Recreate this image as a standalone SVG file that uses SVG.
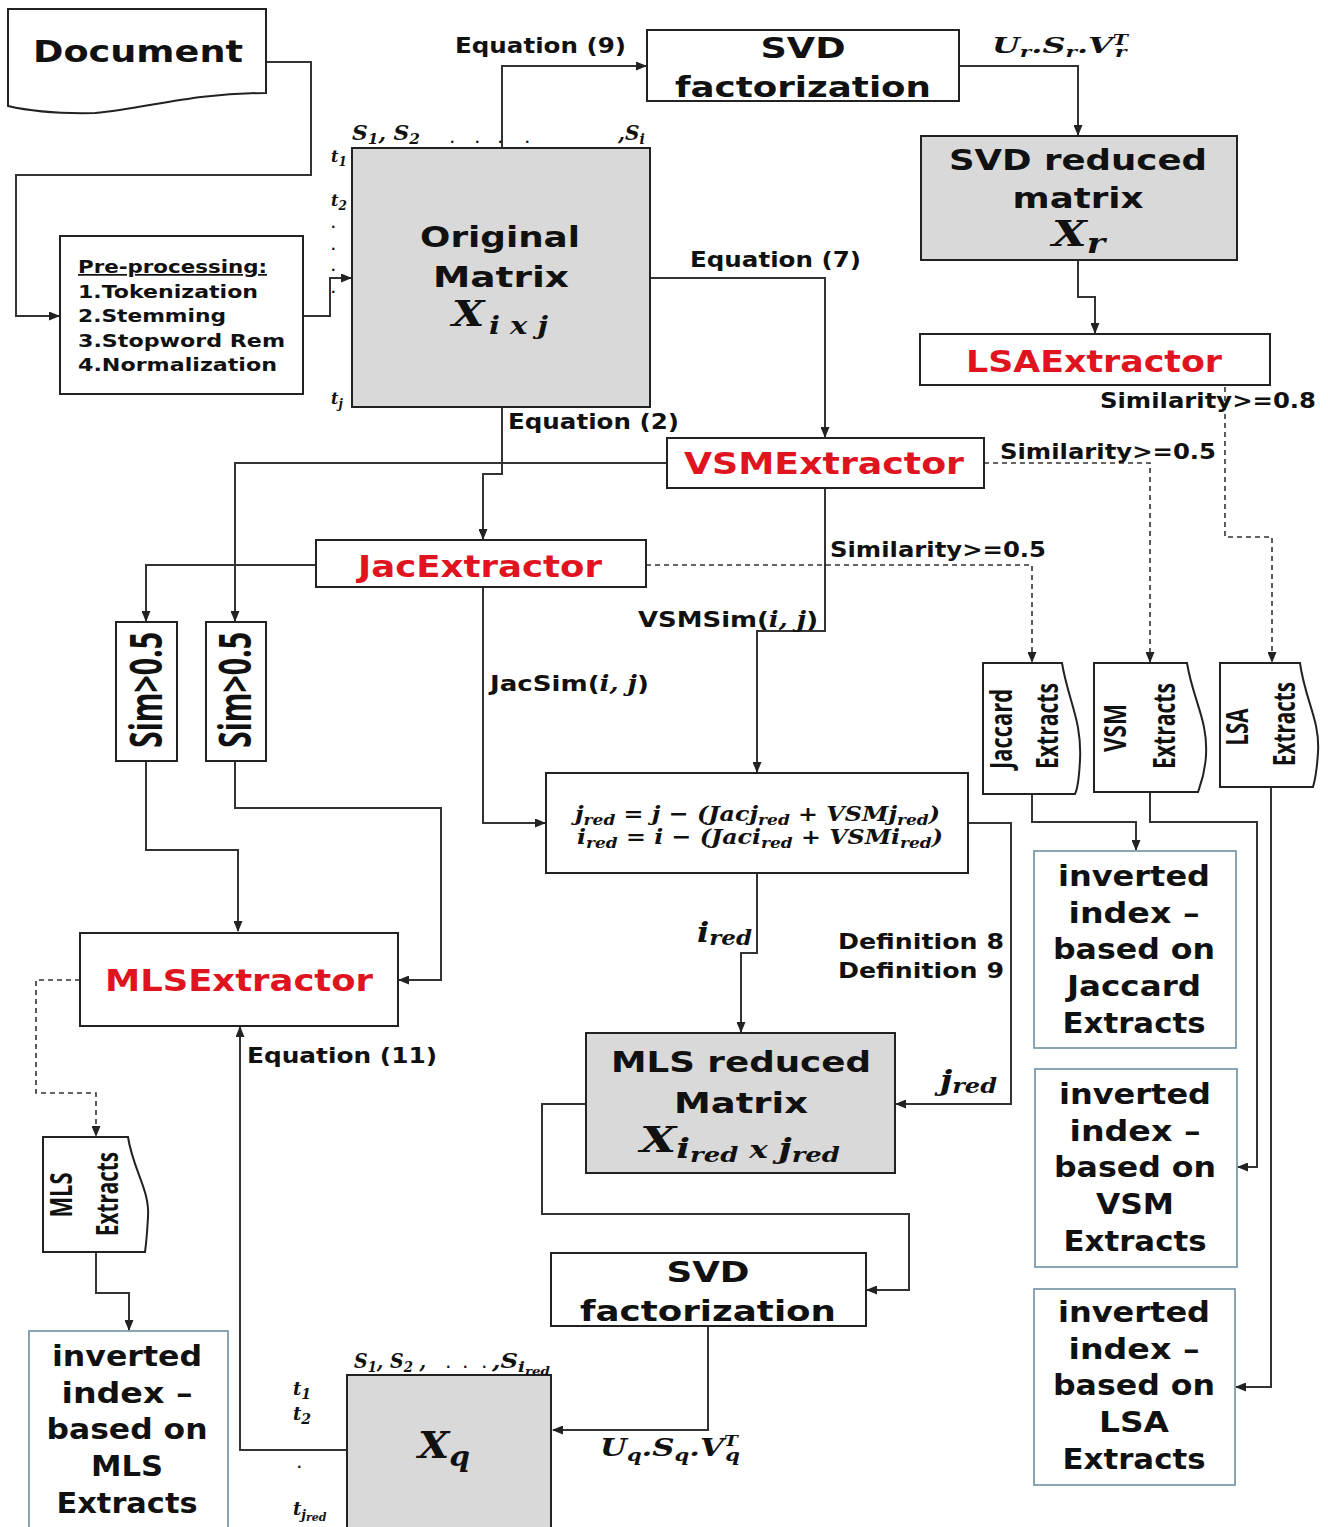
<svg xmlns="http://www.w3.org/2000/svg" width="1328" height="1527" viewBox="0 0 1328 1527">
<style>
.box{fill:#fff;stroke:#222;stroke-width:2}
.gray{fill:#d9d9d9;stroke:#222;stroke-width:2}
.ii{fill:#fff;stroke:#6f8fa3;stroke-width:1.6}
.c{fill:none;stroke:#333;stroke-width:2}
.d{fill:none;stroke:#333;stroke-width:1.6;stroke-dasharray:5 4}
.t{font-family:"DejaVu Sans",Verdana,sans-serif;font-weight:bold;fill:#111}
.red{fill:#e0141e}
.m{font-family:"DejaVu Serif","Liberation Serif",serif;font-style:italic;font-weight:bold;fill:#111}
.r{font-family:"Open Sans","Noto Sans",sans-serif;font-weight:700;fill:#111}
.mid{text-anchor:middle}
</style>
<defs>
<marker id="a" markerWidth="11" markerHeight="9" refX="10" refY="4.5" orient="auto" markerUnits="userSpaceOnUse">
<path d="M0,0 L11,4.5 L0,9 z" fill="#222"/>
</marker>
</defs>

<g id="connectors">
<path class="c" d="M266,62 H311 V175 H16 V316 H59" marker-end="url(#a)"/>
<path class="c" d="M303,316 H330 V278 H351" marker-end="url(#a)"/>
<path class="c" d="M502,148 V66 H646" marker-end="url(#a)"/>
<path class="c" d="M959,66 H1078 V135" marker-end="url(#a)"/>
<path class="c" d="M1078,260 V297 H1095 V333" marker-end="url(#a)"/>
<path class="d" d="M1270,360 H1225 V537 H1272 V662" marker-end="url(#a)"/>
<path class="c" d="M650,278 H825 V437" marker-end="url(#a)"/>
<path class="d" d="M984,463 H1150 V662" marker-end="url(#a)"/>
<path class="c" d="M502,407 V474 H483 V539" marker-end="url(#a)"/>
<path class="c" d="M667,463 H235 V621" marker-end="url(#a)"/>
<path class="c" d="M316,565 H146 V621" marker-end="url(#a)"/>
<path class="d" d="M646,565 H1032 V662" marker-end="url(#a)"/>
<path class="c" d="M483,587 V823 H545" marker-end="url(#a)"/>
<path class="c" d="M825,488 V631 H757 V772" marker-end="url(#a)"/>
<path class="c" d="M146,761 V850 H238 V931" marker-end="url(#a)"/>
<path class="c" d="M235,761 V808 H441 V980 H399" marker-end="url(#a)"/>
<path class="c" d="M968,823 H1011 V1104 H896" marker-end="url(#a)"/>
<path class="c" d="M757,873 V953 H741 V1032" marker-end="url(#a)"/>
<path class="c" d="M586,1104 H542 V1214 H909 V1290 H867" marker-end="url(#a)"/>
<path class="c" d="M708,1326 V1430 H553" marker-end="url(#a)"/>
<path class="c" d="M347,1450 H240 V1027" marker-end="url(#a)"/>
<path class="d" d="M80,980 H36 V1093 H96 V1136" marker-end="url(#a)"/>
<path class="c" d="M96,1252 V1293 H129 V1330" marker-end="url(#a)"/>
<path class="c" d="M1032,794 V822 H1136 V850" marker-end="url(#a)"/>
<path class="c" d="M1150,791 V822 H1257 V1167 H1238" marker-end="url(#a)"/>
<path class="c" d="M1271,787 V1387 H1236" marker-end="url(#a)"/>
</g>

<g id="document">
<path class="box" d="M8,9 H266 V93 C190,93 150,108 95,113 C50,114 25,110 8,106 Z"/>
<text class="t" x="33" y="62" font-size="30" textLength="210" lengthAdjust="spacingAndGlyphs">Document</text>
</g>

<g id="preprocessing">
<rect class="box" x="60" y="236" width="243" height="158"/>
<text class="t" x="78" y="273" font-size="17" textLength="189" lengthAdjust="spacingAndGlyphs" text-decoration="underline">Pre-processing:</text>
<text class="t" x="78" y="298" font-size="17" textLength="180" lengthAdjust="spacingAndGlyphs">1.Tokenization</text>
<text class="t" x="78" y="322" font-size="17" textLength="148" lengthAdjust="spacingAndGlyphs">2.Stemming</text>
<text class="t" x="78" y="347" font-size="17" textLength="207" lengthAdjust="spacingAndGlyphs">3.Stopword Rem</text>
<text class="t" x="78" y="371" font-size="17" textLength="199" lengthAdjust="spacingAndGlyphs">4.Normalization</text>
</g>

<g id="original-matrix">
<rect class="gray" x="352" y="148" width="298" height="259"/>
<text class="t" x="420" y="247" font-size="29" textLength="160" lengthAdjust="spacingAndGlyphs">Original</text>
<text class="t" x="433" y="287" font-size="29" textLength="136" lengthAdjust="spacingAndGlyphs">Matrix</text>
<text class="m" x="452" y="326" font-size="36" textLength="96" lengthAdjust="spacingAndGlyphs">X<tspan font-size="25" dy="8" dx="4">i x j</tspan></text>
<text class="m" x="352" y="140" font-size="20" textLength="68" lengthAdjust="spacingAndGlyphs">S<tspan font-size="14" dy="4">1</tspan><tspan dy="-4">, S</tspan><tspan font-size="14" dy="4">2</tspan></text>
<text class="t" x="450 475 498 525" y="143" font-size="12">....</text>
<text class="m" x="618" y="140" font-size="20">,S<tspan font-size="14" dy="4">i</tspan></text>
<text class="m" x="331" y="162" font-size="16">t<tspan font-size="12" dy="4">1</tspan></text>
<text class="m" x="331" y="206" font-size="16">t<tspan font-size="12" dy="4">2</tspan></text>
<text class="t" x="331" y="228" font-size="12">.</text>
<text class="t" x="331" y="250" font-size="12">.</text>
<text class="t" x="331" y="271" font-size="12">.</text>
<text class="t" x="331" y="293" font-size="12">.</text>
<text class="m" x="331" y="404" font-size="16">t<tspan font-size="12" dy="4">j</tspan></text>
</g>

<g id="svd-factorization-top">
<rect class="box" x="647" y="30" width="312" height="71"/>
<text class="t mid" x="803" y="58" font-size="29" textLength="85" lengthAdjust="spacingAndGlyphs">SVD</text>
<text class="t mid" x="803" y="97" font-size="29" textLength="256" lengthAdjust="spacingAndGlyphs">factorization</text>
</g>

<g id="svd-reduced-matrix">
<rect class="gray" x="921" y="136" width="316" height="124"/>
<text class="t mid" x="1078" y="170" font-size="29" textLength="258" lengthAdjust="spacingAndGlyphs">SVD reduced</text>
<text class="t mid" x="1078" y="208" font-size="29" textLength="131" lengthAdjust="spacingAndGlyphs">matrix</text>
<text class="m" x="1052" y="246" font-size="36" textLength="53" lengthAdjust="spacingAndGlyphs">X<tspan font-size="28" dy="7">r</tspan></text>
</g>

<g id="lsa-extractor">
<rect class="box" x="920" y="334" width="350" height="51"/>
<text class="t red" x="966" y="372" font-size="30" textLength="256" lengthAdjust="spacingAndGlyphs">LSAExtractor</text>
</g>

<g id="vsm-extractor">
<rect class="box" x="667" y="438" width="317" height="50"/>
<text class="t red" x="684" y="474" font-size="30" textLength="280" lengthAdjust="spacingAndGlyphs">VSMExtractor</text>
</g>

<g id="jac-extractor">
<rect class="box" x="316" y="540" width="330" height="47"/>
<text class="t red" x="358" y="577" font-size="30" textLength="244" lengthAdjust="spacingAndGlyphs">JacExtractor</text>
</g>

<g id="sim-left">
<rect class="box" x="116" y="622" width="61" height="139"/>
<text class="r mid" transform="translate(162,690) rotate(-90)" x="0" y="0" font-size="44" textLength="116" lengthAdjust="spacingAndGlyphs">Sim&gt;0.5</text>
</g>
<g id="sim-right">
<rect class="box" x="206" y="622" width="60" height="139"/>
<text class="r mid" transform="translate(251,690) rotate(-90)" x="0" y="0" font-size="44" textLength="116" lengthAdjust="spacingAndGlyphs">Sim&gt;0.5</text>
</g>

<g id="jaccard-extracts">
<path class="box" d="M983,663 H1062 C1068,700 1082,720 1080,760 C1079,780 1077,790 1075,794 H983 Z"/>
<text class="r mid" transform="translate(1012,729) rotate(-90)" font-size="30" textLength="80" lengthAdjust="spacingAndGlyphs">Jaccard</text>
<text class="r mid" transform="translate(1058,726) rotate(-90)" font-size="30" textLength="86" lengthAdjust="spacingAndGlyphs">Extracts</text>
</g>
<g id="vsm-extracts">
<path class="box" d="M1094,663 H1187 C1193,700 1208,720 1206,755 C1205,775 1200,786 1198,792 H1094 Z"/>
<text class="r mid" transform="translate(1126,728) rotate(-90)" font-size="30" textLength="48" lengthAdjust="spacingAndGlyphs">VSM</text>
<text class="r mid" transform="translate(1175,726) rotate(-90)" font-size="30" textLength="86" lengthAdjust="spacingAndGlyphs">Extracts</text>
</g>
<g id="lsa-extracts">
<path class="box" d="M1220,663 H1300 C1305,700 1320,720 1318,752 C1317,770 1315,780 1313,787 H1220 Z"/>
<text class="r mid" transform="translate(1248,727) rotate(-90)" font-size="30" textLength="37" lengthAdjust="spacingAndGlyphs">LSA</text>
<text class="r mid" transform="translate(1295,724) rotate(-90)" font-size="30" textLength="84" lengthAdjust="spacingAndGlyphs">Extracts</text>
</g>

<g id="reduction-formula">
<rect class="box" x="546" y="773" width="422" height="100"/>
<text class="m" x="575" y="821" font-size="21" textLength="365" lengthAdjust="spacingAndGlyphs">j<tspan font-size="15" dy="4">red</tspan><tspan dy="-4"> = j − (Jacj</tspan><tspan font-size="15" dy="4">red</tspan><tspan dy="-4"> + VSMj</tspan><tspan font-size="15" dy="4">red</tspan><tspan dy="-4">)</tspan></text>
<text class="m" x="577" y="844" font-size="21" textLength="366" lengthAdjust="spacingAndGlyphs">i<tspan font-size="15" dy="4">red</tspan><tspan dy="-4"> = i − (Jaci</tspan><tspan font-size="15" dy="4">red</tspan><tspan dy="-4"> + VSMi</tspan><tspan font-size="15" dy="4">red</tspan><tspan dy="-4">)</tspan></text>
</g>

<g id="mls-extractor">
<rect class="box" x="80" y="933" width="318" height="93"/>
<text class="t red" x="105" y="991" font-size="30" textLength="268" lengthAdjust="spacingAndGlyphs">MLSExtractor</text>
</g>

<g id="mls-reduced-matrix">
<rect class="gray" x="586" y="1033" width="309" height="140"/>
<text class="t mid" x="741" y="1072" font-size="29" textLength="260" lengthAdjust="spacingAndGlyphs">MLS reduced</text>
<text class="t mid" x="741" y="1113" font-size="29" textLength="134" lengthAdjust="spacingAndGlyphs">Matrix</text>
<text class="m" x="640" y="1152" font-size="36" textLength="200" lengthAdjust="spacingAndGlyphs">X<tspan font-size="28" dy="6">i</tspan><tspan font-size="20" dy="4">red</tspan><tspan font-size="24" dy="-4"> x </tspan><tspan font-size="28">j</tspan><tspan font-size="20" dy="4">red</tspan></text>
</g>

<g id="svd-factorization-bottom">
<rect class="box" x="551" y="1253" width="315" height="73"/>
<text class="t mid" x="708" y="1282" font-size="29" textLength="83" lengthAdjust="spacingAndGlyphs">SVD</text>
<text class="t mid" x="708" y="1321" font-size="29" textLength="256" lengthAdjust="spacingAndGlyphs">factorization</text>
</g>

<g id="xq-matrix">
<rect class="gray" x="347" y="1375" width="204" height="160"/>
<text class="m" x="418" y="1458" font-size="38" textLength="52" lengthAdjust="spacingAndGlyphs">X<tspan font-size="28" dy="8">q</tspan></text>
<text class="m" x="354" y="1368" font-size="20" textLength="72" lengthAdjust="spacingAndGlyphs">S<tspan font-size="14" dy="4">1</tspan><tspan dy="-4">, S</tspan><tspan font-size="14" dy="4">2</tspan><tspan dy="-4"> ,</tspan></text>
<text class="t" x="446 463 482" y="1368" font-size="12">...</text>
<text class="m" x="492" y="1368" font-size="20" textLength="58" lengthAdjust="spacingAndGlyphs">,S<tspan font-size="15" dy="4">i</tspan><tspan font-size="11" dy="3">red</tspan></text>
<text class="m" x="293" y="1395" font-size="18">t<tspan font-size="14" dy="4">1</tspan></text>
<text class="m" x="293" y="1420" font-size="18">t<tspan font-size="14" dy="4">2</tspan></text>
<text class="t" x="297" y="1468" font-size="12">.</text>
<text class="m" x="293" y="1515" font-size="18">t<tspan font-size="13" dy="4">j</tspan><tspan font-size="11" dy="2">red</tspan></text>
</g>

<g id="mls-extracts">
<path class="box" d="M43,1137 H128 C133,1170 150,1190 148,1217 C147,1235 146,1245 145,1252 H43 Z"/>
<text class="r mid" transform="translate(72,1195) rotate(-90)" font-size="30" textLength="45" lengthAdjust="spacingAndGlyphs">MLS</text>
<text class="r mid" transform="translate(118,1194) rotate(-90)" font-size="30" textLength="84" lengthAdjust="spacingAndGlyphs">Extracts</text>
</g>

<g id="inverted-index-mls">
<rect class="ii" x="29" y="1331" width="199" height="205"/>
<text class="t mid" x="127" y="1366" font-size="28" textLength="150" lengthAdjust="spacingAndGlyphs">inverted</text>
<text class="t mid" x="127" y="1403" font-size="28" textLength="131" lengthAdjust="spacingAndGlyphs">index –</text>
<text class="t mid" x="127" y="1439" font-size="28" textLength="161" lengthAdjust="spacingAndGlyphs">based on</text>
<text class="t mid" x="127" y="1476" font-size="28" textLength="72" lengthAdjust="spacingAndGlyphs">MLS</text>
<text class="t mid" x="127" y="1513" font-size="28" textLength="141" lengthAdjust="spacingAndGlyphs">Extracts</text>
</g>

<g id="inverted-index-jaccard">
<rect class="ii" x="1034" y="851" width="202" height="197"/>
<text class="t mid" x="1134" y="886" font-size="28" textLength="152" lengthAdjust="spacingAndGlyphs">inverted</text>
<text class="t mid" x="1134" y="923" font-size="28" textLength="131" lengthAdjust="spacingAndGlyphs">index –</text>
<text class="t mid" x="1134" y="959" font-size="28" textLength="162" lengthAdjust="spacingAndGlyphs">based on</text>
<text class="t mid" x="1134" y="996" font-size="28" textLength="134" lengthAdjust="spacingAndGlyphs">Jaccard</text>
<text class="t mid" x="1134" y="1033" font-size="28" textLength="143" lengthAdjust="spacingAndGlyphs">Extracts</text>
</g>

<g id="inverted-index-vsm">
<rect class="ii" x="1035" y="1069" width="202" height="198"/>
<text class="t mid" x="1135" y="1104" font-size="28" textLength="152" lengthAdjust="spacingAndGlyphs">inverted</text>
<text class="t mid" x="1135" y="1141" font-size="28" textLength="131" lengthAdjust="spacingAndGlyphs">index –</text>
<text class="t mid" x="1135" y="1177" font-size="28" textLength="162" lengthAdjust="spacingAndGlyphs">based on</text>
<text class="t mid" x="1135" y="1214" font-size="28" textLength="78" lengthAdjust="spacingAndGlyphs">VSM</text>
<text class="t mid" x="1135" y="1251" font-size="28" textLength="143" lengthAdjust="spacingAndGlyphs">Extracts</text>
</g>

<g id="inverted-index-lsa">
<rect class="ii" x="1034" y="1289" width="201" height="196"/>
<text class="t mid" x="1134" y="1322" font-size="28" textLength="152" lengthAdjust="spacingAndGlyphs">inverted</text>
<text class="t mid" x="1134" y="1359" font-size="28" textLength="131" lengthAdjust="spacingAndGlyphs">index –</text>
<text class="t mid" x="1134" y="1395" font-size="28" textLength="162" lengthAdjust="spacingAndGlyphs">based on</text>
<text class="t mid" x="1134" y="1432" font-size="28" textLength="70" lengthAdjust="spacingAndGlyphs">LSA</text>
<text class="t mid" x="1134" y="1469" font-size="28" textLength="143" lengthAdjust="spacingAndGlyphs">Extracts</text>
</g>

<g id="labels">
<text class="t" x="455" y="53" font-size="22" textLength="171" lengthAdjust="spacingAndGlyphs">Equation (9)</text>
<text class="m" x="992" y="53" font-size="22" textLength="136" lengthAdjust="spacingAndGlyphs">U<tspan font-size="15" dy="4">r</tspan><tspan dy="-4">.S</tspan><tspan font-size="15" dy="4">r</tspan><tspan dy="-4">.V</tspan><tspan font-size="14" dy="-8">T</tspan><tspan font-size="15" dx="-9" dy="12">r</tspan></text>
<text class="t" x="690" y="267" font-size="22" textLength="171" lengthAdjust="spacingAndGlyphs">Equation (7)</text>
<text class="t" x="1100" y="408" font-size="22" textLength="216" lengthAdjust="spacingAndGlyphs">Similarity&gt;=0.8</text>
<text class="t" x="508" y="429" font-size="22" textLength="171" lengthAdjust="spacingAndGlyphs">Equation (2)</text>
<text class="t" x="1000" y="459" font-size="22" textLength="216" lengthAdjust="spacingAndGlyphs">Similarity&gt;=0.5</text>
<text class="t" x="830" y="557" font-size="22" textLength="216" lengthAdjust="spacingAndGlyphs">Similarity&gt;=0.5</text>
<text class="t" x="638" y="627" font-size="22" textLength="180" lengthAdjust="spacingAndGlyphs">VSMSim(<tspan class="m" font-size="22">i, j</tspan>)</text>
<text class="t" x="490" y="691" font-size="22" textLength="159" lengthAdjust="spacingAndGlyphs">JacSim(<tspan class="m" font-size="22">i, j</tspan>)</text>
<text class="m" x="697" y="942" font-size="28" textLength="55" lengthAdjust="spacingAndGlyphs">i<tspan font-size="20" dy="3">red</tspan></text>
<text class="t" x="838" y="949" font-size="22" textLength="166" lengthAdjust="spacingAndGlyphs">Definition 8</text>
<text class="t" x="838" y="978" font-size="22" textLength="166" lengthAdjust="spacingAndGlyphs">Definition 9</text>
<text class="m" x="940" y="1090" font-size="28" textLength="57" lengthAdjust="spacingAndGlyphs">j<tspan font-size="20" dy="3">red</tspan></text>
<text class="t" x="247" y="1063" font-size="22" textLength="190" lengthAdjust="spacingAndGlyphs">Equation (11)</text>
<text class="m" x="600" y="1456" font-size="25" textLength="140" lengthAdjust="spacingAndGlyphs">U<tspan font-size="17" dy="5">q</tspan><tspan dy="-5">.S</tspan><tspan font-size="17" dy="5">q</tspan><tspan dy="-5">.V</tspan><tspan font-size="15" dy="-10">T</tspan><tspan font-size="17" dx="-10" dy="15">q</tspan></text>
</g>
</svg>
